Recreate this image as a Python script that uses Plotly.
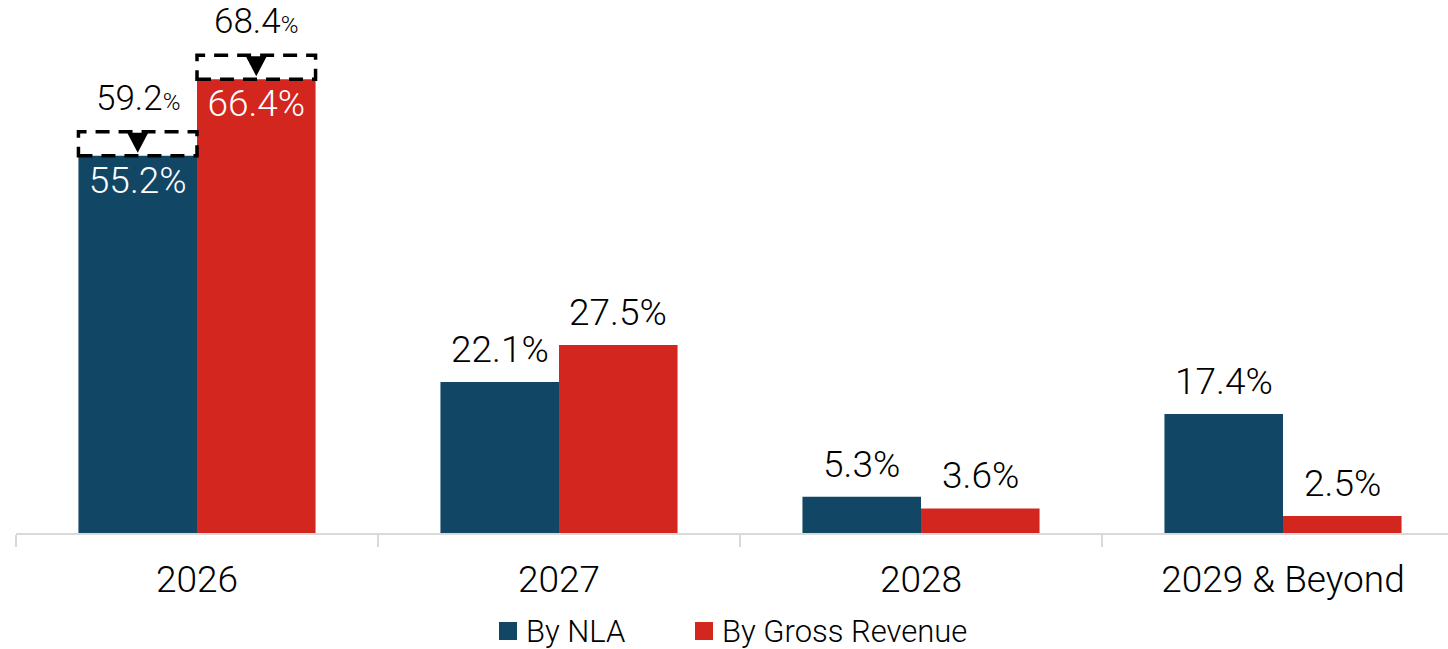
import plotly.graph_objects as go

categories = ["2026", "2027", "2028", "2029 & Beyond"]
nla = [55.2, 22.1, 5.3, 17.4]
gross_revenue = [66.4, 27.5, 3.6, 2.5]
# pro-forma values shown above the 2026 bars
pro_forma_nla = {0: 59.2}
pro_forma_gr = {0: 68.4}
series_names = ["By NLA", "By Gross Revenue"]

BLUE = "#114664"
RED = "#d3261f"
FONT = "Roboto"
BARGAP = 0.345

W, H = 1448, 649
ML, MB = 16, 116
PW, PH = W - ML, H - MB

fig = go.Figure()
for vals, name, color, pf, grp in [
    (nla, series_names[0], BLUE, pro_forma_nla, "a"),
    (gross_revenue, series_names[1], RED, pro_forma_gr, "b"),
]:
    fig.add_trace(go.Bar(
        x=categories, y=vals, name=name, marker=dict(color=color, line=dict(width=0)),
        offsetgroup=grp, showlegend=False,
        text=[f"{v:.1f}%" if i in pf else "" for i, v in enumerate(vals)],
        textposition="inside",
        insidetextanchor="end", textangle=0, constraintext="none",
        insidetextfont=dict(family=FONT, size=37, color="white", weight=300),
        cliponaxis=False,
    ))

half = (1 - BARGAP) / 2
shapes = []
annotations = []
for vals, pf, side in [(nla, pro_forma_nla, -1), (gross_revenue, pro_forma_gr, 1)]:
    for i, v in enumerate(vals):
        x0 = i if side > 0 else i - half
        x1 = i + half if side > 0 else i
        xc = (x0 + x1) / 2
        if i in pf:
            pv = pf[i]
            shapes.append(dict(
                type="rect", xref="x", yref="y", x0=x0, x1=x1,
                ysizemode="pixel", yanchor=v, y0=0, y1=24,
                line=dict(color="black", width=3.5, dash="14px,9px"),
                fillcolor="rgba(0,0,0,0)",
            ))
            shapes.append(dict(
                type="path", xref="x", yref="y",
                xsizemode="pixel", xanchor=xc, ysizemode="pixel", yanchor=v,
                path="M-10.5,23 L10.5,23 L0,3 Z",
                fillcolor="black", line=dict(width=0),
            ))
            annotations.append(dict(
                x=xc, y=v, xref="x", yref="y", yanchor="bottom", yshift=35,
                showarrow=False,
                text=f"{pv:.1f}<span style='font-size:24px'>%</span>",
                font=dict(family=FONT, size=35, color="black", weight=300),
            ))
        else:
            annotations.append(dict(
                x=xc, y=v, xref="x", yref="y", yanchor="bottom", yshift=9,
                showarrow=False, text=f"{v:.1f}%",
                font=dict(family=FONT, size=37, color="black", weight=300),
            ))

# custom legend (squares + labels) below the axis
legend_items = [(series_names[0], BLUE, 499), (series_names[1], RED, 695)]
LEG_Y = 631
SQ = 18
for name, color, px in legend_items:
    shapes.append(dict(
        type="rect", xref="paper", yref="paper",
        x0=(px - ML) / PW, x1=(px + SQ - ML) / PW,
        y0=(PH - (LEG_Y - SQ / 2)) / PH, y1=(PH - (LEG_Y + SQ / 2)) / PH,
        fillcolor=color, line=dict(width=0),
    ))
    annotations.append(dict(
        x=(px + SQ + 7 - ML) / PW, y=(PH - LEG_Y) / PH, xref="paper", yref="paper",
        xanchor="left", yanchor="middle", showarrow=False, text=name,
        font=dict(family=FONT, size=31, color="black", weight=300),
    ))

fig.update_layout(
    width=W, height=H,
    margin=dict(l=ML, r=0, t=0, b=MB, autoexpand=False),
    barmode="group", bargap=BARGAP, bargroupgap=0,
    plot_bgcolor="white", paper_bgcolor="white",
    font=dict(family=FONT, size=35, color="black", weight=300),
    shapes=shapes, annotations=annotations,
    showlegend=False,
    xaxis=dict(
        type="category", range=[-0.5, 3.5 - 16 / 362],
        showline=True, linecolor="#d9d9d9", linewidth=2,
        ticks="outside", tickson="boundaries", ticklen=12, tickcolor="#d9d9d9", tickwidth=2,
        ticklabelstandoff=13,
        showgrid=False, tickfont=dict(family=FONT, size=37, color="black", weight=300),
    ),
    yaxis=dict(visible=False, range=[0, 78], showgrid=False, zeroline=False),
)

fig.write_html("out.html")
